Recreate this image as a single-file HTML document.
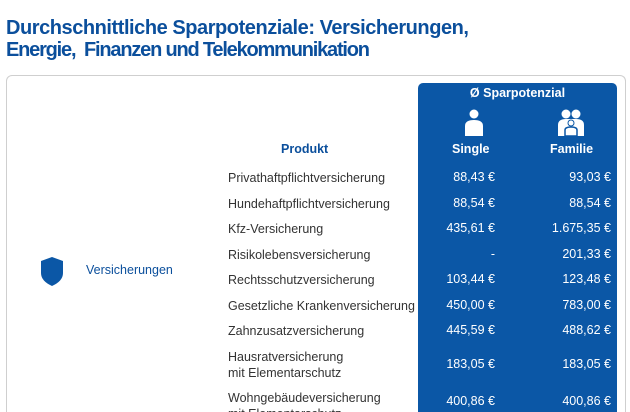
<!DOCTYPE html>
<html style="overflow:hidden"><head><meta charset="utf-8"><style>
html,body{margin:0;width:630px;height:412px;overflow:hidden}
body{background:#fff;font-family:"Liberation Sans",sans-serif;position:relative}
.t{position:absolute;white-space:nowrap}
.h{position:absolute;left:6px;margin:0;font-size:20px;line-height:23px;color:#0b4f9c;font-weight:bold;white-space:nowrap}
.card{position:absolute;left:6px;top:75px;width:618px;height:337px;border:1px solid #cfcfcf;border-bottom:none;border-radius:6px 6px 0 0}
.panel{position:absolute;left:418px;top:83px;width:199px;height:329px;background:#0b57a6;border-radius:5px 5px 0 0}
.p{left:228px;font-size:12.5px;color:#333;line-height:16px}
.v{font-size:12.5px;color:#fff;text-align:right;line-height:15px}
.s{right:135px}.f{right:19px}
#rows{position:absolute;left:0;top:0;width:630px;height:412px;overflow:hidden}
</style></head><body>
<div class="h" style="top:17px;letter-spacing:-0.45px">Durchschnittliche Sparpotenziale: Versicherungen,</div>
<div class="h" style="top:39px;letter-spacing:-1.2px">Energie,&nbsp; Finanzen und Telekommunikation</div>
<div class="card"></div>
<div class="panel"></div>
<div class="t" style="left:418px;width:199px;text-align:center;top:86px;color:#fff;font-weight:bold;font-size:12.5px">Ø Sparpotenzial</div>
<svg class="t" style="left:464px;top:109px" width="20" height="28"><circle cx="10" cy="5" r="4.5" fill="#fff"/><path d="M1 27V17q0-6 9-6t9 6v10z" fill="#fff"/></svg>
<svg class="t" style="left:557px;top:109px" width="28" height="28"><circle cx="9" cy="5" r="4.5" fill="#fff"/><circle cx="19" cy="5" r="4.5" fill="#fff"/><path d="M1 27V16q0-6 8-6h10q8 0 8 6v11z" fill="#fff"/><circle cx="14" cy="14" r="3.5" fill="#0b57a6"/><circle cx="14" cy="14" r="2.5" fill="#fff"/><path d="M8 27v-6q0-3 6-3t6 3v6z" fill="#fff" stroke="#0b57a6" stroke-width="1.5"/></svg>
<div class="t" style="left:452px;top:142px;color:#fff;font-weight:bold;font-size:12.5px">Single</div>
<div class="t" style="left:550px;top:142px;color:#fff;font-weight:bold;font-size:12.5px">Familie</div>
<div class="t" style="left:281px;top:142px;color:#0b4f9c;font-weight:bold;font-size:12.5px">Produkt</div>
<svg class="t" style="left:40px;top:257px" width="24" height="29"><path d="M12 0L23 4V16Q23 24 12 29Q1 24 1 16V4z" fill="#0b57a6"/></svg>
<div class="t" style="left:86px;top:263px;color:#0b4f9c;font-size:12.5px">Versicherungen</div>
<div id="rows"></div>
<script>
const products=["Privathaftpflichtversicherung","Hundehaftpflichtversicherung","Kfz-Versicherung","Risikolebensversicherung","Rechtsschutzversicherung","Gesetzliche Krankenversicherung","Zahnzusatzversicherung","Hausratversicherung<br>mit Elementarschutz","Wohngebäudeversicherung<br>mit Elementarschutz"];
const single=["88,43 €","88,54 €","435,61 €","-","103,44 €","450,00 €","445,59 €","183,05 €","400,86 €"];
const family=["93,03 €","88,54 €","1.675,35 €","201,33 €","123,48 €","783,00 €","488,62 €","183,05 €","400,86 €"];
const tops=[170,196,221,247,272,298,323,349,390];
const r=document.getElementById('rows');
products.forEach((p,i)=>{
 const two=p.includes('<br>');const y=tops[i];
 const a=document.createElement('div');a.className='t p';a.style.top=y+'px';a.innerHTML=p;
 
 
 r.appendChild(a);
 const vy=i==8?y+4:(two?y+8:y);
 const b=document.createElement('div');b.className='t v s';b.style.top=vy+'px';b.textContent=single[i];
 
 
 r.appendChild(b);
 const c=document.createElement('div');c.className='t v f';c.style.top=vy+'px';c.textContent=family[i];
 
 
 r.appendChild(c);
});
</script>
</body></html>
